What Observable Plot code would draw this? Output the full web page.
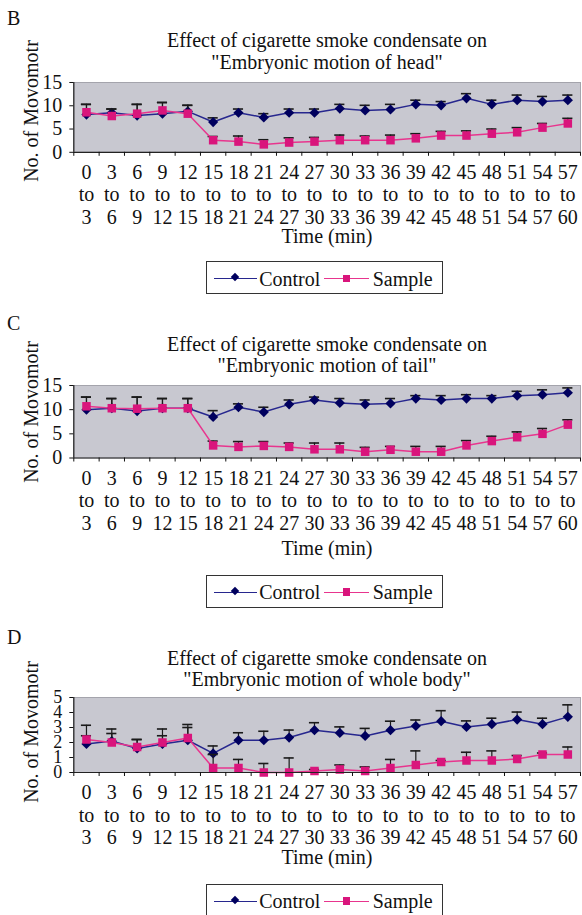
<!DOCTYPE html>
<html><head><meta charset="utf-8">
<script src="https://cdn.jsdelivr.net/npm/d3@7"></script>
<script src="https://cdn.jsdelivr.net/npm/@observablehq/plot@0.6"></script>
<style>
body{margin:0;background:#fff;}
#page{position:relative;width:582px;height:915px;overflow:hidden;font-family:"Liberation Serif","Times New Roman",serif;color:#111;}
.t{position:absolute;white-space:nowrap;font-size:20px;line-height:1;transform:translate(-50%,-50%);}
.l{position:absolute;white-space:nowrap;font-size:20px;line-height:1;transform:translate(0,-50%);}
.yl{position:absolute;white-space:nowrap;font-size:20px;line-height:1;transform:translate(-50%,-50%) rotate(-90deg);}
.plot{position:absolute;left:0;}
.leg{position:absolute;left:205.7px;width:237px;height:33px;border:1px solid #333;box-sizing:border-box;background:#fff;}
.leg span{position:absolute;}
</style></head><body><div id="page"></div>
<script>
// ---- data ----
const intervalStart = [0,3,6,9,12,15,18,21,24,27,30,33,36,39,42,45,48,51,54,57];
const intervalEnd   = [3,6,9,12,15,18,21,24,27,30,33,36,39,42,45,48,51,54,57,60];
const seriesNames = ["Control", "Sample"];

const headControl    = [8.1,8.5,7.9,8.3,8.8,6.5,8.5,7.5,8.5,8.5,9.4,9.0,9.2,10.3,10.1,11.6,10.3,11.2,10.9,11.2];
const headControlErr = [2.2,0.8,2.4,2.4,1.3,0.9,0.8,0.8,0.8,0.8,0.9,1.1,1.1,0.9,0.8,1.0,0.9,1.1,1.1,1.1];
const headSample     = [8.6,7.8,8.3,9.0,8.3,2.6,2.3,1.7,2.1,2.3,2.6,2.6,2.6,3.0,3.6,3.6,4.0,4.3,5.3,6.2];
const headSampleErr  = [1.7,1.5,2.0,1.7,1.8,0.8,1.2,1.0,1.0,0.9,1.1,0.9,1.1,1.0,0.9,1.0,1.0,1.0,0.9,1.1];

const tailControl    = [10.0,10.3,9.7,10.3,10.3,8.5,10.5,9.5,11.1,12.0,11.4,11.1,11.3,12.3,12.0,12.3,12.3,12.9,13.1,13.5];
const tailControlErr = [2.6,2.0,2.9,2.0,2.0,1.3,0.7,1.0,0.9,0.6,0.9,0.9,1.0,0.6,0.9,0.8,0.6,0.9,1.0,1.0];
const tailSample     = [10.7,10.3,10.2,10.3,10.3,2.6,2.3,2.5,2.3,1.8,1.8,1.3,1.7,1.3,1.3,2.6,3.5,4.3,5.0,6.9];
const tailSampleErr  = [1.9,2.0,2.4,2.0,2.0,0.9,1.1,0.9,0.8,1.3,1.3,0.9,0.7,1.1,1.1,1.0,1.0,1.1,1.1,1.0];

const bodyControl    = [1.9,2.1,1.6,1.9,2.15,1.27,2.15,2.15,2.33,2.82,2.64,2.44,2.82,3.1,3.42,3.04,3.22,3.53,3.22,3.71];
const bodyControlErr = [0.55,0.8,0.6,1.0,1.05,0.5,0.5,0.6,0.5,0.5,0.4,0.5,0.6,0.4,0.7,0.4,0.4,0.5,0.4,0.8];
const bodySample     = [2.2,2.0,1.7,2.0,2.3,0.3,0.3,0.0,0.0,0.1,0.2,0.1,0.3,0.5,0.7,0.8,0.8,0.9,1.2,1.2];
const bodySampleErr  = [0.95,0.6,0.5,0.45,0.7,0.9,0.57,0.6,0.97,0.1,0.3,0.27,0.57,0.94,0.1,0.55,0.64,0.23,0.1,0.5];

const panels = [
  {letter:"B", part:"head", control:headControl, controlErr:headControlErr, sample:headSample, sampleErr:headSampleErr,
   yMax:15, yTicks:[0,5,10,15], yFont:20, letterY:17.5, titleY:[39.5,61.7], plotTop:81.7, plotBottom:151.5, yLabelY:111, timeY:236, legendTop:261},
  {letter:"C", part:"tail", control:tailControl, controlErr:tailControlErr, sample:tailSample, sampleErr:tailSampleErr,
   yMax:15, yTicks:[0,5,10,15], yFont:20, letterY:323, titleY:[344,365], plotTop:385, plotBottom:457.5, yLabelY:412, timeY:548, legendTop:574.5},
  {letter:"D", part:"whole body", control:bodyControl, controlErr:bodyControlErr, sample:bodySample, sampleErr:bodySampleErr,
   yMax:5, yTicks:[0,1,2,3,4,5], yFont:18, letterY:636.7, titleY:[658.3,679.3], plotTop:697.3, plotBottom:772.3, yLabelY:732, timeY:857, legendTop:883.5}
];

const tickLabels = intervalStart.map((s,i)=>`${s}\nto\n${intervalEnd[i]}`);
const CTRL_LINE="#27278e", CTRL_DOT="#00005e", SAMP_LINE="#e8358e", SAMP_DOT="#d9157c";

const page = document.getElementById("page");
function addText(cls, txt, x, y){ const d=document.createElement("div"); d.className=cls; d.textContent=txt; d.style.left=x+"px"; d.style.top=y+"px"; page.appendChild(d); return d; }

const PL=73.3, PR=580, MT=10, MB=75;
for (const p of panels){
  addText("l", p.letter, 7, p.letterY);
  addText("t", "Effect of cigarette smoke condensate on", 327, p.titleY[0]);
  addText("t", `"Embryonic motion of ${p.part}"`, 327, p.titleY[1]);
  addText("yl", "No. of Movomotr", 31, p.yLabelY);
  addText("t", "Time (min)", 327, p.timeY);

  const ctrl = p.control.map((v,i)=>({x:i+0.5, y:v, top:v+p.controlErr[i]}));
  const samp = p.sample.map((v,i)=>({x:i+0.5, y:v, top:v+p.sampleErr[i]}));
  const h = p.plotBottom - p.plotTop;
  const errMarks = (data)=>[
    Plot.ruleX(data, {x:"x", y1:"y", y2:"top", stroke:"#1a1a1a", strokeWidth:1.2}),
    Plot.ruleY(data, {y:"top", x1:d=>d.x-0.2, x2:d=>d.x+0.2, stroke:"#1a1a1a", strokeWidth:1.6})
  ];
  const svg = Plot.plot({
    width:582, height:MT+h+MB, marginLeft:PL, marginRight:582-PR, marginTop:MT, marginBottom:MB,
    style:{fontFamily:"Liberation Serif, Times New Roman, serif", fontSize:"20px", color:"#111", background:"transparent", overflow:"visible"},
    x:{domain:[0,20]},
    y:{domain:[0,p.yMax]},
    marks:[
      Plot.frame({fill:"#c8c8d0", stroke:"#a4a4ac"}),
      ...errMarks(ctrl),
      Plot.line(ctrl, {x:"x", y:"y", stroke:CTRL_LINE, strokeWidth:1.5}),
      Plot.dot(ctrl, {x:"x", y:"y", symbol:"diamond2", r:4.6, fill:CTRL_DOT, stroke:"none"}),
      ...errMarks(samp),
      Plot.line(samp, {x:"x", y:"y", stroke:SAMP_LINE, strokeWidth:1.5}),
      Plot.dot(samp, {x:"x", y:"y", symbol:"square", r:4.8, fill:SAMP_DOT, stroke:"none"}),
      Plot.ruleY([0], {stroke:"#222", strokeWidth:1.2}),
      Plot.ruleX([0], {stroke:"#222", strokeWidth:1.2}),
      Plot.axisY({ticks:p.yTicks, tickSize:4, tickPadding:7.5, tickFormat:d3.format("d"), label:null, fontSize:p.yFont}),
      Plot.axisX({ticks:d3.range(21), tickSize:4, tickFormat:()=>"", label:null}),
      Plot.axisX({ticks:tickLabels.map((_,i)=>i+0.5), tickSize:0, tickPadding:10.5, tickFormat:(d,i)=>tickLabels[i], lineHeight:1.13, fontSize:20, label:null})
    ]
  });
  svg.classList.add("plot");
  svg.style.top = (p.plotTop - MT) + "px";
  page.appendChild(svg);

  const leg = document.createElement("div");
  leg.className="leg"; leg.style.top = p.legendTop+"px";
  leg.innerHTML = `
    <span style="left:7.6px;top:16px;width:43px;height:0;border-top:1.5px solid ${CTRL_LINE}"></span>
    <span style="left:25.5px;top:12.2px;width:6px;height:6px;background:${CTRL_DOT};transform:rotate(45deg)"></span>
    <span style="left:52.5px;top:16.5px;font-size:20px;line-height:1;transform:translateY(-50%)">${seriesNames[0]}</span>
    <span style="left:117.5px;top:16px;width:45px;height:0;border-top:1.5px solid ${SAMP_LINE}"></span>
    <span style="left:136px;top:12.8px;width:7.5px;height:7.5px;background:${SAMP_DOT}"></span>
    <span style="left:166px;top:16.5px;font-size:20px;line-height:1;transform:translateY(-50%)">${seriesNames[1]}</span>`;
  page.appendChild(leg);
}
</script>
</body></html>
